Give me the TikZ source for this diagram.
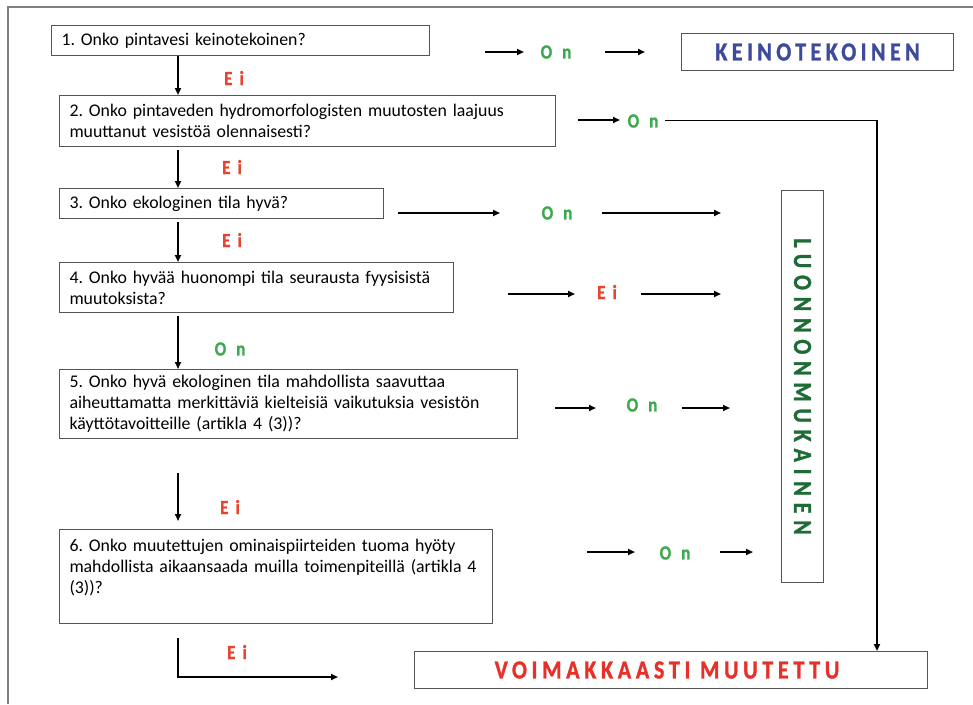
\documentclass[tikz,border=0pt]{standalone}
\usepackage{fontspec}
\setmainfont{Carlito}
\usetikzlibrary{arrows.meta}
\frenchspacing
\hyphenpenalty=10000
\definecolor{ongreen}{HTML}{3CAA4C}
\definecolor{eired}{HTML}{E8432E}
\definecolor{kblue}{HTML}{3E4A9B}
\definecolor{lgreen}{HTML}{1F6B36}
\definecolor{vred}{HTML}{E8302A}
\definecolor{boxgray}{HTML}{555555}
\begin{document}
\begin{tikzpicture}[x=1pt,y=-1pt,
  qbox/.style={draw=boxgray,line width=1pt,anchor=north west,inner xsep=10pt,inner ysep=2pt,
    align=left,font=\fontsize{17.8}{21}\selectfont},
  rbox/.style={draw=boxgray,line width=1pt,inner sep=0pt},
  onlab/.style={text=ongreen,font=\fontsize{20}{20}\selectfont\bfseries\addfontfeature{FakeStretch=0.85,FakeBold=1.2,LetterSpace=50}},
  eilab/.style={text=eired,font=\fontsize{20}{20}\selectfont\bfseries\addfontfeature{FakeStretch=0.85,FakeBold=1.2,LetterSpace=36}},
  arr/.style={line width=1.8pt,-{Triangle[length=7pt,width=6pt]}},
  thinln/.style={line width=1pt}
]
\useasboundingbox (0,0) rectangle (973,704);
\draw[gray,line width=1.2pt] (8,704) -- (8,7) -- (973,7);

% question boxes
\node[qbox,minimum width=378pt,text width=358pt,minimum height=30pt] (q1) at (51,25) {1. Onko pintavesi keinotekoinen?};
\node[qbox,minimum width=496pt,text width=476pt,minimum height=51pt] (q2) at (59,95) {2. Onko pintaveden hydromorfologisten muutosten laajuus\\muuttanut vesistöä olennaisesti?};
\node[qbox,minimum width=324pt,text width=304pt,minimum height=30pt] (q3) at (59,188) {3. Onko ekologinen tila hyvä?};
\node[qbox,minimum width=394pt,text width=374pt,minimum height=50pt] (q4) at (59,262) {4. Onko hyvää huonompi tila seurausta fyysisistä\\muutoksista?};
\node[qbox,minimum width=458pt,text width=438pt,minimum height=69pt] (q5) at (59,369) {5. Onko hyvä ekologinen tila mahdollista saavuttaa\\aiheuttamatta merkittäviä kielteisiä vaikutuksia vesistön\\käyttötavoitteille (artikla 4 (3))?};
\node[qbox,minimum width=433pt,text width=413pt,minimum height=94pt] (q6) at (59,529) {6. Onko muutettujen ominaispiirteiden tuoma hyöty\\mahdollista aikaansaada muilla toimenpiteillä (artikla~4\\(3))?\\\mbox{}};

% result boxes
\node[rbox,minimum width=272pt,minimum height=37pt,anchor=north west,
  text=kblue,font=\fontsize{26}{26}\selectfont\bfseries\addfontfeature{FakeStretch=0.85,FakeBold=1.2,LetterSpace=17}] (keino) at (681,33) {KEINOTEKOINEN};
\node[rbox,minimum width=42pt,minimum height=392pt,anchor=north west] (luonbox) at (781,190) {};
\node[text=lgreen,rotate=-90,font=\fontsize{26}{26}\selectfont\bfseries\addfontfeature{FakeStretch=0.85,FakeBold=1.2,LetterSpace=26}] (luon) at (luonbox.center) {LUONNONMUKAINEN};
\node[rbox,minimum width=513pt,minimum height=37pt,anchor=north west] (voimbox) at (414,651) {};
\node[text=vred,font=\fontsize{26}{26}\selectfont\bfseries\addfontfeature{FakeStretch=0.85,FakeBold=1.2,LetterSpace=18}] (voim) at (667,670) {VOIMAKKAASTI MUUTETTU};

% labels
\node[onlab] (on1) at (556,52) {On};
\node[onlab] (on2) at (643,121) {On};
\node[onlab] (on3) at (557,213) {On};
\node[eilab] (ei4) at (607,292) {Ei};
\node[onlab] (on5) at (642,405) {On};
\node[onlab] (on6) at (675,553) {On};
\node[eilab] (ei12) at (234,78) {Ei};
\node[eilab] (ei23) at (232,167) {Ei};
\node[eilab] (ei34) at (232,240) {Ei};
\node[onlab] (on45) at (230,349) {On};
\node[eilab] (ei56) at (230,507) {Ei};
\node[eilab] (ei6) at (237,652) {Ei};

% coordinates for free arrow ends
\coordinate (a1s) at (485,52); \coordinate (a1e) at (524,52);
\coordinate (b1s) at (605,52); \coordinate (b1e) at (645,52);
\coordinate (a2s) at (578,120); \coordinate (a2e) at (620,120);
\coordinate (c2s) at (665,120); \coordinate (c2m) at (877,120);
\coordinate (a3s) at (398,213); \coordinate (a3e) at (500,213);
\coordinate (b3s) at (602,213); \coordinate (b3e) at (721,213);
\coordinate (a4s) at (508,294); \coordinate (a4e) at (575,294);
\coordinate (b4s) at (641,294); \coordinate (b4e) at (721,294);
\coordinate (a5s) at (555,408); \coordinate (a5e) at (596,408);
\coordinate (b5s) at (682,408); \coordinate (b5e) at (730,408);
\coordinate (a6s) at (587,552); \coordinate (a6e) at (635,552);
\coordinate (b6s) at (720,552); \coordinate (b6e) at (753,552);
\coordinate (d5s) at (178,473); \coordinate (d5e) at (178,521);
\coordinate (d6s) at (178,638); \coordinate (d6m) at (178,677); \coordinate (d6e) at (338,677);
\coordinate (d4s) at (178,316);
\coordinate (d2s) at (178,150);
\coordinate (d3s) at (178,222);

% arrows
\draw[arr] (a1s) -- (a1e);
\draw[arr] (b1s) -- (b1e);
\draw[arr] (a2s) -- (a2e);
\draw[thinln] (c2s) -- (c2m);
\draw[arr] (c2m) -- (c2m |- voimbox.north);
\draw[arr] (a3s) -- (a3e);
\draw[arr] (b3s) -- (b3e);
\draw[arr] (a4s) -- (a4e);
\draw[arr] (b4s) -- (b4e);
\draw[arr] (a5s) -- (a5e);
\draw[arr] (b5s) -- (b5e);
\draw[arr] (a6s) -- (a6e);
\draw[arr] (b6s) -- (b6e);

\draw[arr] (q1.south -| d2s) -- (d2s |- q2.north);
\draw[arr] (d2s) -- (d2s |- q3.north);
\draw[arr] (d3s) -- (d3s |- q4.north);
\draw[arr] (d4s) -- (d4s |- q5.north);
\draw[arr] (d5s) -- (d5e);
\draw[arr] (d6s) -- (d6m) -- (d6e);
\end{tikzpicture}
\end{document}
